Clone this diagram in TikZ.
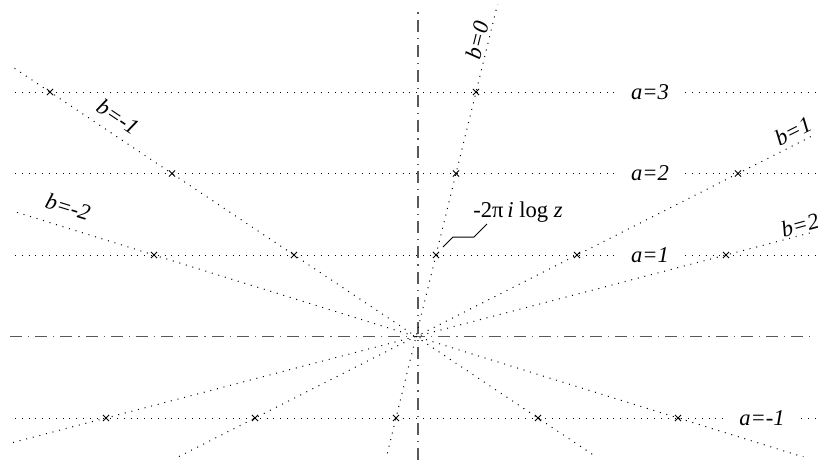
\documentclass[tikz,border=0pt]{standalone}
\usepackage{fontspec}
\setmainfont{Liberation Serif}
\usetikzlibrary{shapes.misc}

\begin{document}
\begin{tikzpicture}[x=0.5pt,y=40.75pt,font=\fontsize{11.3}{13}\selectfont\itshape,
  axis/.style={black!65,line width=0.7pt,dash pattern=on 6pt off 3pt on 0.6pt off 3pt},
  grid/.style={line width=0.5pt,dash pattern=on 0.5pt off 2.9pt},
  latpt/.style={cross out,draw,line width=0.45pt,inner sep=0pt,minimum size=2.6pt},
  alab/.style={inner xsep=8pt,inner ysep=0pt}]
  \useasboundingbox (-416,-1.515) rectangle (404,4.129);
  \draw[axis] (-406,0) -- (394,0);
  \draw[axis] (2,-1.515) -- (2,4.02);
  \foreach \a in {1,2,3}{\node[alab] (la\a) at (234,\a) {a=\a};}
  \node[alab] (lam) at (346,-1) {a=-1};
  \foreach \a in {1,2,3}{\draw[grid] (-401,\a) -- (la\a.west); \draw[grid] (la\a.east) -- (399,\a);}
  \draw[grid] (-401,-1) -- (lam.west); \draw[grid] (lam.east) -- (399,-1);
  \begin{scope}
    \clip (-404,-1.478) rectangle (397,4.07);
    \foreach \k in {-262,-122,20,161,310}{\draw[grid] ({-2*\k},-2) -- ({5*\k},5);}
  \end{scope}
  \foreach \a/\k in {-1/-262,-1/-122,-1/20,-1/161,-1/310,1/-262,1/-122,1/20,1/161,1/310,2/-122,2/20,2/161,3/-122,3/20}{
    \node[latpt] (p\a\k) at ({\a*\k},\a) {};}
  \node[rotate=76] (lb0) at (61,3.638) {b=0};
  \node[rotate=-33.7] (lbm1) at (-298,2.693) {b=-1};
  \node[rotate=-17.2] (lbm2) at (-348,1.589) {b=-2};
  \node[rotate=26.7] (lb1) at (377,2.52) {b=1};
  \node[rotate=15] (lb2) at (384,1.368) {b=2};
  \node[font=\fontsize{11.3}{13}\selectfont\upshape] (lz) at (102,1.528) {-2π\,\textit{i}\ log \textit{z}};
  \draw[line width=0.5pt] (p120) ++(3.5pt,4pt) -- ++(5pt,5pt) -- ++(10.5pt,0pt) -- ++(6.5pt,6.5pt);
\end{tikzpicture}
\end{document}
